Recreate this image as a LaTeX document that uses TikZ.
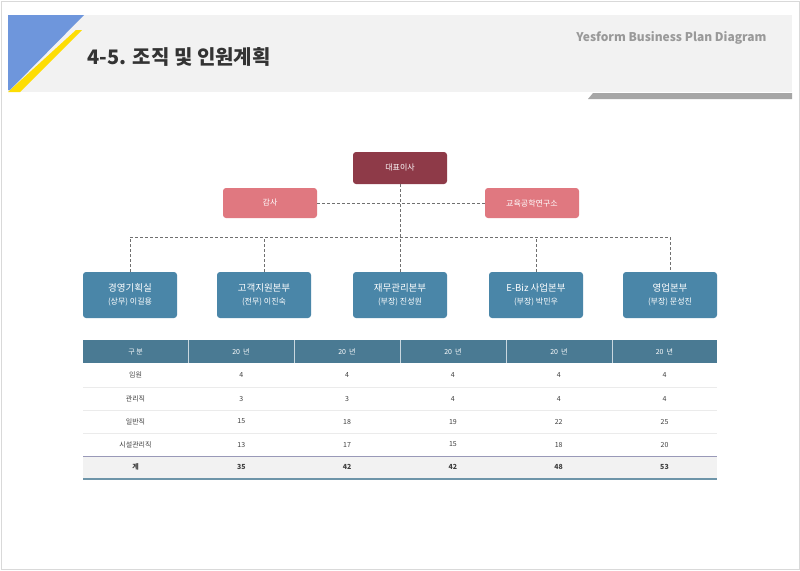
\documentclass[tikz,border=0pt]{standalone}
\usepackage{fontspec}
\setmainfont{Noto Sans CJK KR}
\usetikzlibrary{positioning}
\definecolor{ceo}{HTML}{8E3A48}
\definecolor{staff}{HTML}{E07880}
\definecolor{dept}{HTML}{4A86A8}
\definecolor{thead}{HTML}{4A7A93}
\definecolor{band}{HTML}{F2F2F2}
\definecolor{conn}{HTML}{707070}
\tikzset{
  orgbox/.style={rounded corners=3pt, text=white, minimum width=94pt, align=center, inner sep=0pt},
  link/.style={conn, densely dashed, line width=0.5pt},
  cell/.style={font=\fontsize{7}{8}\selectfont, text=black!75}
}
\begin{document}
\begin{tikzpicture}[x=1pt, y=-1pt]
\useasboundingbox (0,0) rectangle (800,570);
\fill[white] (0,0) rectangle (800,570);
\draw[black!15] (1,1) rectangle (799,569);
% header
\fill[band] (8,15) rectangle (792,92);
\fill[yellow!80!orange] (76,30) -- (82,30) -- (20,92) -- (8,92) -- cycle;
\fill[blue!45!cyan!50!black!60!white, fill={rgb,255:red,110;green,150;blue,220}] (8,15) -- (84,15) -- (10,90) -- (8,90) -- cycle;
\fill[black!35] (593,93) -- (792,93) -- (792,99) -- (588,99) -- cycle;
\node[anchor=west, font=\bfseries\fontsize{20}{22}\selectfont, text=black!80] (title) at (84,57) {4-5. 조직 및 인원계획};
\node[anchor=east, font=\bfseries\fontsize{12}{14}\selectfont, text=black!40] (brand) at (770,38) {Yesform\ Business\ Plan\ Diagram};
% org chart
\node[orgbox, fill=ceo, minimum height=32pt, font=\fontsize{8}{9}\selectfont] (ceo) at (400,168) {대표이사};
\node[orgbox, fill=staff, minimum height=30pt, font=\fontsize{8}{9}\selectfont] (audit) at (270,203) {감사};
\node[orgbox, fill=staff, minimum height=30pt, font=\fontsize{8}{9}\selectfont] (lab) at (532,203) {교육공학연구소};
\foreach \x/\n/\a/\b in {130/d1/경영기획실/(상무) 이길용, 264/d2/고객지원본부/(전무) 이진숙, 400/d3/재무관리본부/(부장) 진성원, 536/d4/E-Biz 사업본부/(부장) 박민우, 670/d5/영업본부/(부장) 문성진}{
  \node[orgbox, fill=dept, minimum height=46pt] (\n) at (\x,295) {{\fontsize{9.5}{12}\selectfont\a}\\[1pt]{\fontsize{8}{10}\selectfont\b}};
}
\coordinate (hub) at (400,237);
\draw[link] (ceo) -- (d3);
\draw[link] (audit) -- (lab);
\draw[link] (d1.north) |- (hub) -| (d5.north);
\draw[link] (d2.north) -- (d2.north |- hub);
\draw[link] (d4.north) -- (d4.north |- hub);
% table
\fill[thead] (83,340) rectangle (717,363);
\foreach \x in {188,294,400,506,612} \draw[white!70!thead] (\x,340) -- (\x,363);
\fill[band] (83,456) rectangle (717,478);
\foreach \y in {387,410,433} \draw[black!8] (83,\y) -- (717,\y);
\draw[blue!30!black!40, line width=0.8pt] (83,456) -- (717,456);
\draw[thead!80, line width=2pt] (83,479) -- (717,479);
\foreach \x/\t in {135.5/구 분, 241/20\ \ 년, 347/20\ \ 년, 453/20\ \ 년, 559/20\ \ 년, 664.5/20\ \ 년}
  \node[cell, text=white] (h\x) at (\x,352) {\t};
\foreach \y/\r in {375/{임원,4,4,4,4,4}, 398.5/{관리직,3,3,4,4,4}, 421.5/{일반직,15,18,19,22,25}, 444.5/{시설관리직,13,17,15,18,20}}{
  \foreach \v [count=\i] in \r {
    \pgfmathsetmacro{\cx}{135.5+(\i-1)*105.8}
    \node[cell] (c\i) at (\cx,\y) {\v};
  }
}
\foreach \v [count=\i] in {계,35,42,42,48,53}{
  \pgfmathsetmacro{\cx}{135.5+(\i-1)*105.8}
  \node[cell, font=\bfseries\fontsize{7}{8}\selectfont] (t\i) at (\cx,467) {\v};
}
\end{tikzpicture}
\end{document}
